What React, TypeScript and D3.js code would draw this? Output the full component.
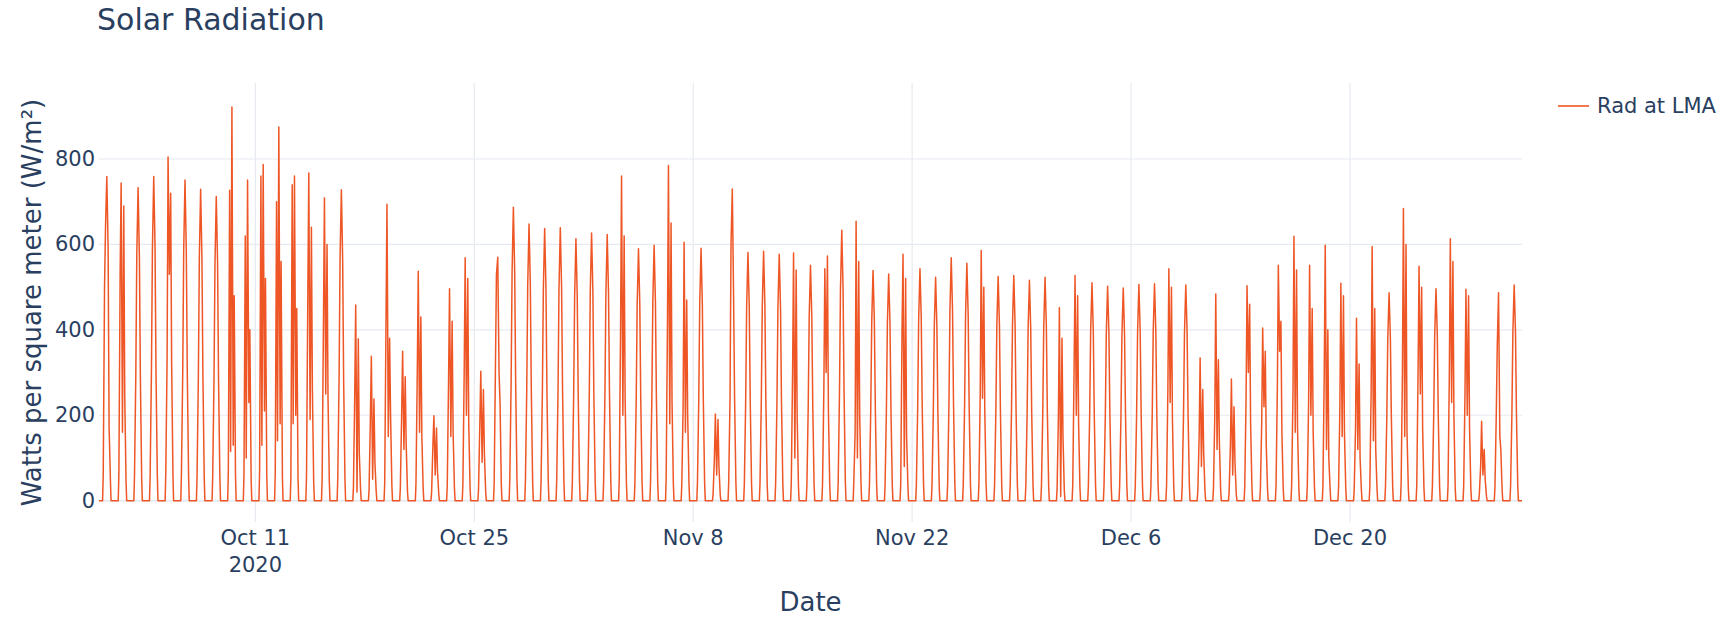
import { useEffect } from "react";
import * as d3 from "d3";

const TITLE = "Solar Radiation";
const SERIES_NAME = "Rad at LMA";
const X_TITLE = "Date";
const Y_TITLE = "Watts per square meter (W/m²)";

const START_DATE = "2020-10-01";
const END_DATE = "2020-12-31";

// readings at night are zero, daytime readings at these hours
const NIGHT_HOURS = [5.5, 18.5];
const DAY_HOURS = [6.5, 8.5, 10, 12, 14, 15.5, 17.5];

// W/m² per day, one row per day, values at DAY_HOURS
const octDays = [
  [62, 500, 640, 759, 590, 172, 50],
  [60, 540, 744, 160, 690, 250, 45],
  [60, 295, 575, 733, 570, 290, 55],
  [60, 305, 590, 759, 595, 300, 60],
  [65, 330, 805, 530, 720, 320, 60],
  [60, 300, 585, 751, 585, 300, 58],
  [58, 290, 570, 729, 565, 290, 55],
  [55, 285, 555, 712, 555, 280, 55],
  [70, 727, 115, 922, 130, 480, 60],
  [60, 620, 100, 751, 230, 400, 50],
  [70, 760, 130, 787, 210, 520, 60],
  [65, 700, 140, 875, 180, 560, 55],
  [55, 740, 180, 760, 200, 450, 50],
  [60, 480, 767, 190, 640, 260, 45],
  [55, 420, 709, 250, 600, 240, 45],
  [55, 290, 570, 728, 560, 280, 50],
  [30, 250, 458, 20, 379, 110, 25],
  [25, 190, 338, 50, 238, 90, 20],
  [40, 420, 694, 150, 380, 200, 35],
  [30, 200, 350, 120, 290, 130, 20],
  [40, 300, 537, 160, 430, 150, 30],
  [20, 130, 199, 60, 170, 70, 15],
  [35, 280, 496, 150, 420, 160, 30],
  [40, 300, 569, 200, 520, 180, 30],
  [25, 180, 303, 90, 260, 110, 20],
  [40, 320, 530, 570, 300, 230, 35],
  [50, 275, 535, 687, 535, 275, 50],
  [48, 260, 505, 648, 505, 260, 48],
  [48, 255, 497, 637, 497, 255, 48],
  [48, 255, 498, 639, 498, 255, 48],
  [45, 245, 478, 613, 478, 245, 45],
];

const novDays = [
  [45, 250, 490, 627, 490, 250, 45],
  [45, 250, 486, 623, 486, 250, 45],
  [55, 400, 760, 200, 620, 240, 40],
  [42, 236, 460, 590, 460, 236, 42],
  [43, 240, 466, 598, 466, 240, 43],
  [55, 420, 785, 180, 650, 230, 40],
  [40, 220, 605, 160, 470, 200, 40],
  [42, 236, 461, 591, 461, 236, 42],
  [15, 100, 203, 60, 190, 80, 12],
  [45, 240, 600, 730, 470, 240, 42],
  [40, 232, 453, 581, 453, 232, 40],
  [40, 234, 455, 584, 455, 234, 40],
  [40, 230, 450, 577, 450, 230, 40],
  [40, 300, 580, 100, 540, 200, 35],
  [38, 220, 430, 551, 430, 220, 38],
  [40, 260, 543, 300, 573, 210, 38],
  [44, 253, 494, 633, 494, 253, 44],
  [45, 160, 654, 100, 560, 200, 40],
  [38, 215, 420, 539, 420, 215, 38],
  [37, 212, 414, 531, 414, 212, 37],
  [40, 400, 577, 80, 520, 150, 35],
  [38, 217, 424, 543, 424, 217, 38],
  [36, 209, 408, 523, 408, 209, 36],
  [40, 228, 444, 569, 444, 228, 40],
  [39, 222, 434, 556, 434, 222, 39],
  [40, 250, 586, 240, 500, 210, 38],
  [36, 210, 410, 525, 410, 210, 36],
  [37, 211, 411, 527, 411, 211, 37],
  [36, 206, 402, 516, 402, 206, 36],
  [36, 209, 408, 523, 408, 209, 36],
];

const decDays = [
  [30, 200, 452, 10, 380, 150, 25],
  [36, 300, 527, 200, 480, 180, 32],
  [35, 204, 398, 510, 398, 204, 35],
  [35, 200, 392, 502, 392, 200, 35],
  [35, 199, 388, 498, 388, 199, 35],
  [35, 202, 395, 506, 395, 202, 35],
  [35, 203, 396, 508, 396, 203, 35],
  [36, 260, 543, 230, 500, 190, 32],
  [35, 202, 394, 505, 394, 202, 35],
  [25, 150, 334, 80, 260, 110, 20],
  [30, 200, 484, 120, 330, 140, 25],
  [20, 130, 285, 60, 220, 90, 15],
  [32, 240, 503, 300, 460, 180, 30],
  [28, 180, 404, 220, 350, 130, 25],
  [35, 260, 551, 350, 420, 160, 30],
  [38, 250, 619, 160, 540, 170, 30],
  [35, 230, 551, 200, 450, 160, 30],
  [35, 300, 598, 120, 400, 100, 28],
  [32, 220, 509, 150, 480, 160, 30],
  [28, 170, 427, 120, 320, 100, 25],
  [35, 260, 595, 140, 450, 120, 28],
  [33, 195, 380, 487, 380, 195, 33],
  [40, 300, 684, 150, 600, 160, 30],
  [35, 300, 549, 250, 500, 170, 30],
  [34, 198, 387, 496, 387, 198, 34],
  [36, 300, 613, 230, 560, 200, 30],
  [33, 250, 495, 200, 480, 170, 28],
  [15, 80, 186, 60, 120, 50, 10],
  [32, 200, 360, 487, 150, 120, 25],
  [34, 202, 394, 505, 394, 202, 34],
];

const X_TICKS = ["2020-10-11", "2020-10-25", "2020-11-08", "2020-11-22", "2020-12-06", "2020-12-20"];
const Y_TICKS = [0, 200, 400, 600, 800];
const Y_RANGE = [-50, 978];

const W = 1732;
const H = 618;
const M = { left: 99, right: 210, top: 83, bottom: 96 };

const TEXT = "#2a3f5f";
const GRID = "#e6eaf1";
const LINE = "#ee5626";
const FONT = "'DejaVu Sans', Verdana, sans-serif";

const parse = d3.timeParse("%Y-%m-%d");
const at = (day: Date, hour: number) => d3.timeMinute.offset(day, Math.round(hour * 60));

type Pt = { t: Date; v: number };

function buildSeries(): Pt[] {
  const start = parse(START_DATE) as Date;
  const end = parse(END_DATE) as Date;
  const days = [...octDays, ...novDays, ...decDays];
  const pts: Pt[] = [{ t: start, v: 0 }];
  days.forEach((vals, i) => {
    const day = d3.timeDay.offset(start, i);
    pts.push({ t: at(day, NIGHT_HOURS[0]), v: 0 });
    vals.forEach((v, j) => pts.push({ t: at(day, DAY_HOURS[j]), v }));
    pts.push({ t: at(day, NIGHT_HOURS[1]), v: 0 });
  });
  pts.push({ t: end, v: 0 });
  return pts;
}

export default function App() {
  useEffect(() => {
    document.body.style.margin = "0";
  }, []);

  const data = buildSeries();

  const x = d3
    .scaleTime()
    .domain([parse(START_DATE) as Date, parse(END_DATE) as Date])
    .range([M.left, W - M.right]);

  const y = d3
    .scaleLinear()
    .domain(Y_RANGE)
    .range([H - M.bottom, M.top]);

  const line = d3
    .line<Pt>()
    .x((d) => x(d.t))
    .y((d) => y(d.v));

  const fmt = d3.timeFormat("%b %-d");
  const xTicks = X_TICKS.map((s) => parse(s) as Date);

  return (
    <svg width={W} height={H} style={{ display: "block", background: "#fff" }} fontFamily={FONT}>
      <rect width={W} height={H} fill="#fff" />

      {/* grid */}
      {xTicks.map((t, i) => (
        <line key={"gx" + i} x1={x(t)} x2={x(t)} y1={M.top} y2={H - M.bottom} stroke={GRID} strokeWidth={1.2} />
      ))}
      {Y_TICKS.map((v) => (
        <line
          key={"gy" + v}
          x1={M.left}
          x2={W - M.right}
          y1={y(v)}
          y2={y(v)}
          stroke={GRID}
          strokeWidth={v === 0 ? 2 : 1.2}
        />
      ))}

      {/* series */}
      <path d={line(data) ?? ""} fill="none" stroke={LINE} strokeWidth={1.5} strokeLinejoin="round" />

      {/* y ticks */}
      {Y_TICKS.map((v) => (
        <text key={"ty" + v} x={M.left - 4} y={y(v) + 7} textAnchor="end" fontSize={21} fill={TEXT}>
          {v}
        </text>
      ))}

      {/* x ticks */}
      {xTicks.map((t, i) => (
        <text key={"tx" + i} x={x(t)} y={545} textAnchor="middle" fontSize={21} fill={TEXT}>
          {fmt(t)}
          {i === 0 && (
            <tspan x={x(t)} dy={27}>
              {d3.timeFormat("%Y")(t)}
            </tspan>
          )}
        </text>
      ))}

      {/* titles */}
      <text x={97} y={30} fontSize={30} fill={TEXT}>
        {TITLE}
      </text>
      <text x={(M.left + W - M.right) / 2} y={611} textAnchor="middle" fontSize={26} fill={TEXT}>
        {X_TITLE}
      </text>
      <text
        transform={`translate(41, ${(M.top + H - M.bottom) / 2}) rotate(-90)`}
        textAnchor="middle"
        fontSize={26}
        fill={TEXT}
      >
        {Y_TITLE}
      </text>

      {/* legend */}
      <line x1={1558} x2={1589} y1={106} y2={106} stroke={LINE} strokeWidth={2} strokeOpacity={0.8} />
      <text x={1597} y={113} fontSize={21} fill={TEXT}>
        {SERIES_NAME}
      </text>
    </svg>
  );
}
